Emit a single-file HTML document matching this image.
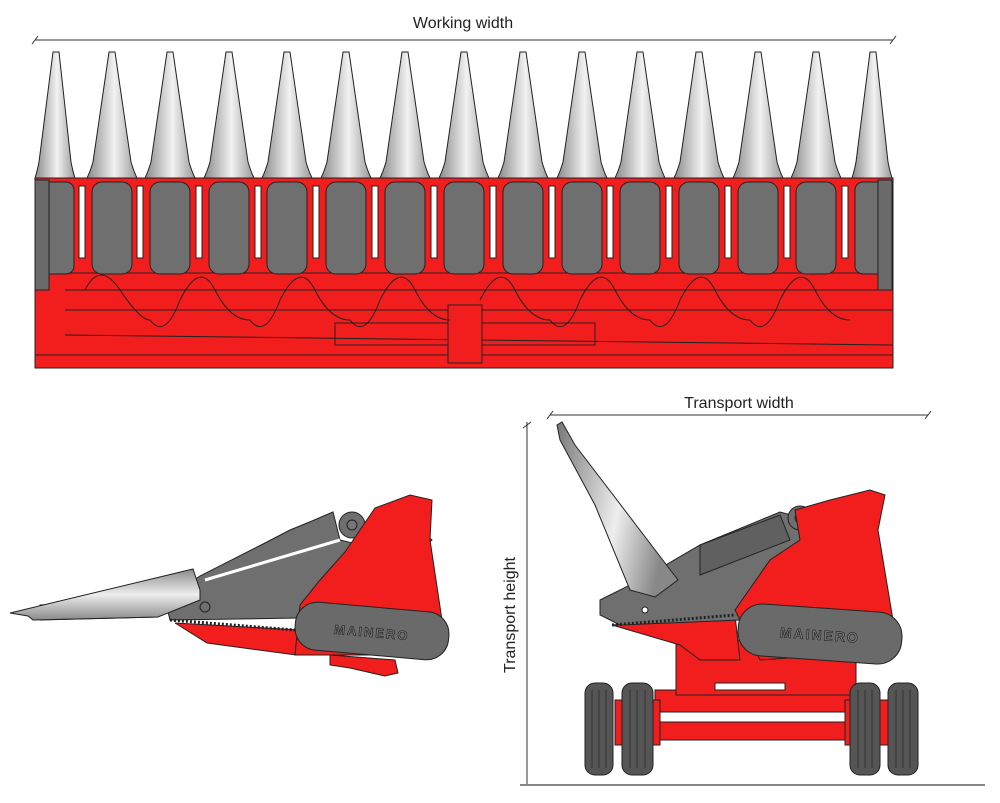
<!DOCTYPE html>
<html><head><meta charset="utf-8"><style>
html,body{margin:0;padding:0;background:#fff;}
svg{display:block;font-family:"Liberation Sans",sans-serif;}
</style></head><body>
<svg width="1000" height="803" viewBox="0 0 1000 803" xmlns="http://www.w3.org/2000/svg">
<defs>
<linearGradient id="cone" x1="0" x2="1" y1="0" y2="0">
<stop offset="0" stop-color="#8a8a8a"/><stop offset="0.55" stop-color="#f2f2f2"/><stop offset="1" stop-color="#9a9a9a"/>
</linearGradient>
<linearGradient id="cone2" x1="0" x2="0" y1="0" y2="1">
<stop offset="0" stop-color="#8a8a8a"/><stop offset="0.5" stop-color="#eeeeee"/><stop offset="1" stop-color="#8a8a8a"/>
</linearGradient>
<linearGradient id="cone3" x1="0" x2="1" y1="0" y2="0.3">
<stop offset="0" stop-color="#777"/><stop offset="0.6" stop-color="#eee"/><stop offset="1" stop-color="#888"/>
</linearGradient>
</defs>

<text x="463" y="28" font-size="16" text-anchor="middle" fill="#222">Working width</text>
<line x1="35" y1="40" x2="893" y2="40" stroke="#333" stroke-width="1"/>
<line x1="38" y1="36" x2="32" y2="44" stroke="#333"/>
<line x1="896" y1="36" x2="890" y2="44" stroke="#333"/>

<rect x="35" y="270" width="858" height="98" fill="#f21d1d" stroke="#222"/>
<rect x="35" y="178" width="858" height="95" fill="#f21d1d" stroke="#222"/>
<line x1="65" y1="290" x2="893" y2="290" stroke="#222"/>
<line x1="65" y1="310" x2="893" y2="310" stroke="#222"/>
<line x1="65" y1="335" x2="893" y2="345" stroke="#222"/>
<line x1="35" y1="355" x2="893" y2="355" stroke="#222"/>
<rect x="335" y="323" width="260" height="22" fill="none" stroke="#222"/>
<rect x="448" y="305" width="34" height="58" fill="#f21d1d" stroke="#222"/>
<g fill="none" stroke="#222" stroke-width="1">
<path d="M85 290 Q100 260 120 290 T150 320 Q165 340 180 300 Q200 260 215 290 T250 320 Q265 340 280 300 Q300 260 315 290 T350 320 Q365 340 380 300 Q400 260 415 290 T450 320 M480 300 Q500 260 515 290 T550 320 Q565 340 580 300 Q600 260 615 290 T650 320 Q665 340 680 300 Q700 260 715 290 T750 320 Q765 340 780 300 Q800 260 815 290 T850 320"/>
</g>

<g stroke="#222" stroke-width="1">
<g fill="#6f6f6f">
<rect x="38" y="182" width="36" height="92" rx="8"/>
<rect x="92" y="182" width="40" height="92" rx="10"/>
<rect x="150" y="182" width="40" height="92" rx="10"/>
<rect x="209" y="182" width="40" height="92" rx="10"/>
<rect x="267" y="182" width="40" height="92" rx="10"/>
<rect x="326" y="182" width="40" height="92" rx="10"/>
<rect x="385" y="182" width="40" height="92" rx="10"/>
<rect x="444" y="182" width="40" height="92" rx="10"/>
<rect x="503" y="182" width="40" height="92" rx="10"/>
<rect x="562" y="182" width="40" height="92" rx="10"/>
<rect x="620" y="182" width="40" height="92" rx="10"/>
<rect x="679" y="182" width="40" height="92" rx="10"/>
<rect x="738" y="182" width="40" height="92" rx="10"/>
<rect x="796" y="182" width="40" height="92" rx="10"/>
<rect x="855" y="182" width="36" height="92" rx="8"/>
</g>
<g fill="#fff">
<rect x="79" y="186" width="6" height="72"/><rect x="137" y="186" width="6" height="72"/><rect x="196" y="186" width="6" height="72"/><rect x="255" y="186" width="6" height="72"/><rect x="313" y="186" width="6" height="72"/><rect x="372" y="186" width="6" height="72"/><rect x="431" y="186" width="6" height="72"/><rect x="490" y="186" width="6" height="72"/><rect x="549" y="186" width="6" height="72"/><rect x="607" y="186" width="6" height="72"/><rect x="666" y="186" width="6" height="72"/><rect x="725" y="186" width="6" height="72"/><rect x="784" y="186" width="6" height="72"/><rect x="842" y="186" width="6" height="72"/>
</g>
<rect x="35" y="180" width="14" height="110" fill="#6a6a6a"/>
<rect x="878" y="180" width="14" height="110" fill="#6a6a6a"/>
<g fill="url(#cone)">
<path d="M53 52 h6 l12 110 q2 10 4 16 h-40 q2 -6 4 -16 z"/>
<path d="M109 52 h6 l16 110 q3 10 6 16 h-50 q3 -6 6 -16 z"/>
<path d="M167 52 h6 l16 110 q3 10 6 16 h-50 q3 -6 6 -16 z"/>
<path d="M226 52 h6 l16 110 q3 10 6 16 h-50 q3 -6 6 -16 z"/>
<path d="M284 52 h6 l16 110 q3 10 6 16 h-50 q3 -6 6 -16 z"/>
<path d="M343 52 h6 l16 110 q3 10 6 16 h-50 q3 -6 6 -16 z"/>
<path d="M402 52 h6 l16 110 q3 10 6 16 h-50 q3 -6 6 -16 z"/>
<path d="M461 52 h6 l16 110 q3 10 6 16 h-50 q3 -6 6 -16 z"/>
<path d="M520 52 h6 l16 110 q3 10 6 16 h-50 q3 -6 6 -16 z"/>
<path d="M579 52 h6 l16 110 q3 10 6 16 h-50 q3 -6 6 -16 z"/>
<path d="M637 52 h6 l16 110 q3 10 6 16 h-50 q3 -6 6 -16 z"/>
<path d="M696 52 h6 l16 110 q3 10 6 16 h-50 q3 -6 6 -16 z"/>
<path d="M755 52 h6 l16 110 q3 10 6 16 h-50 q3 -6 6 -16 z"/>
<path d="M813 52 h6 l16 110 q3 10 6 16 h-50 q3 -6 6 -16 z"/>
<path d="M870 52 h6 l12 110 q2 10 4 16 h-40 q2 -6 4 -16 z"/>
</g>
</g>

<!-- Bottom-left side view -->
<g stroke="#222" stroke-width="1">
<path d="M330 655 L395 660 L398 673 L385 676 L350 668 L330 665 Z" fill="#f21d1d"/>
<path d="M175 623 L300 630 L296 655 L207 643 Z" fill="#f21d1d"/>
<path d="M40 605 L158 598 L158 617 L40 620 Z" fill="#6f6f6f"/>
<path d="M165 600 L200 576 L265 543 L290 530 L312 521 L333 512 L340 540 L360 545 L410 520 L432 540 L360 600 L300 618 L170 620 Z" fill="#6f6f6f"/>
<path d="M205 580 L340 540" stroke="#fff" stroke-width="3"/>
<circle cx="352" cy="525" r="13" fill="#6f6f6f"/><circle cx="352" cy="525" r="5" fill="#777"/>
<path d="M375 508 L410 495 L432 500 L430 540 L445 640 L430 655 L295 655 L300 605 L320 580 L345 552 Z" fill="#f21d1d"/>
<path d="M10 613 L193 569 L200 590 L200 600 L158 617 L33 620 L28 616 Z" fill="url(#cone2)"/>
<circle cx="205" cy="607" r="5" fill="#6f6f6f"/>
<rect x="295" y="607" width="154" height="48" rx="22" fill="#6a6a6a" transform="rotate(5 372 631)"/>
<text x="372" y="637" font-size="13" font-weight="bold" text-anchor="middle" fill="#777" stroke="#222" stroke-width="0.6" letter-spacing="2" transform="rotate(5 372 631)">MAINERO</text>
<line x1="170" y1="620" x2="295" y2="630" stroke="#222" stroke-width="3" stroke-dasharray="2 2"/>
</g>

<!-- Bottom-right transport -->
<text x="739" y="408" font-size="16" text-anchor="middle" fill="#222">Transport width</text>
<line x1="550" y1="415" x2="928" y2="415" stroke="#333"/>
<line x1="553" y1="411" x2="547" y2="419" stroke="#333"/>
<line x1="931" y1="411" x2="925" y2="419" stroke="#333"/>
<line x1="527" y1="422" x2="527" y2="785" stroke="#333"/>
<line x1="523" y1="428" x2="531" y2="422" stroke="#333"/>
<text x="515" y="615" font-size="16" text-anchor="middle" fill="#222" transform="rotate(-90 515 615)">Transport height</text>
<line x1="520" y1="785" x2="985" y2="785" stroke="#888" stroke-width="2"/>

<g stroke="#222" stroke-width="1">
<rect x="655" y="690" width="200" height="22" fill="#f21d1d"/>
<rect x="655" y="722" width="200" height="18" fill="#f21d1d"/>
<rect x="615" y="700" width="45" height="45" fill="#f21d1d"/>
<rect x="845" y="700" width="45" height="45" fill="#f21d1d"/>
<rect x="676" y="640" width="180" height="55" fill="#f21d1d"/>
<rect x="715" y="683" width="70" height="7" fill="#fff"/>
<rect x="585" y="683" width="28" height="92" rx="10" fill="#555"/>
<rect x="622" y="683" width="31" height="92" rx="10" fill="#555"/>
<rect x="850" y="683" width="30" height="92" rx="10" fill="#555"/>
<rect x="888" y="683" width="30" height="92" rx="10" fill="#555"/>
<g stroke="#333" stroke-width="1">
<line x1="592" y1="690" x2="592" y2="768"/><line x1="599" y1="690" x2="599" y2="768"/><line x1="606" y1="690" x2="606" y2="768"/>
<line x1="630" y1="690" x2="630" y2="768"/><line x1="637" y1="690" x2="637" y2="768"/><line x1="645" y1="690" x2="645" y2="768"/>
<line x1="858" y1="690" x2="858" y2="768"/><line x1="865" y1="690" x2="865" y2="768"/><line x1="872" y1="690" x2="872" y2="768"/>
<line x1="896" y1="690" x2="896" y2="768"/><line x1="903" y1="690" x2="903" y2="768"/><line x1="910" y1="690" x2="910" y2="768"/>
</g>
<path d="M612 625 L735 615 L740 660 L700 660 L680 645 Z" fill="#f21d1d"/>
<path d="M600 600 L640 580 L700 545 L780 512 L810 520 L790 560 L740 620 L620 625 L600 615 Z" fill="#6f6f6f"/>
<path d="M700 545 L780 515 L790 540 L700 575 Z" fill="#606060"/>
<circle cx="800" cy="518" r="12" fill="#6f6f6f"/><circle cx="800" cy="518" r="5" fill="#777"/>
<path d="M795 510 L830 500 L870 490 L885 495 L878 530 L898 650 L760 660 L735 610 L770 560 L800 540 Z" fill="#f21d1d"/>
<rect x="738" y="608" width="164" height="52" rx="24" fill="#6a6a6a" transform="rotate(4 820 634)"/>
<text x="820" y="640" font-size="14" font-weight="bold" text-anchor="middle" fill="#777" stroke="#222" stroke-width="0.6" letter-spacing="2" transform="rotate(4 820 634)">MAINERO</text>
<line x1="612" y1="625" x2="735" y2="615" stroke="#222" stroke-width="3" stroke-dasharray="2 2"/>
<path d="M557 425 L562 422 L575 445 L678 580 L655 597 L630 590 L595 505 L560 440 Z" fill="url(#cone3)"/>
<circle cx="645" cy="610" r="3" fill="#fff"/>
</g>
</svg>
</body></html>
